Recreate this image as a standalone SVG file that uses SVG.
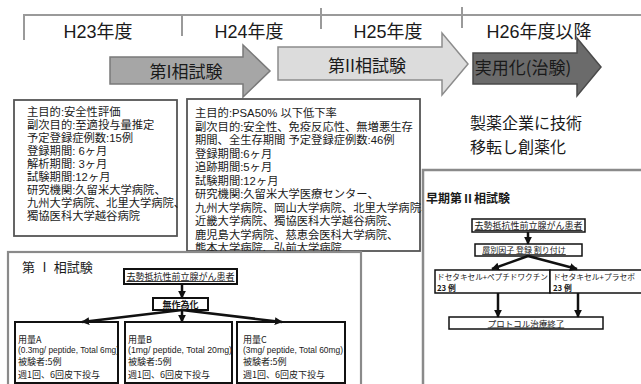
<svg xmlns="http://www.w3.org/2000/svg" width="641" height="384" viewBox="0 0 641 384">
<defs>
<marker id="ah" viewBox="0 0 10 10" refX="9" refY="5" markerWidth="8" markerHeight="8" markerUnits="userSpaceOnUse" orient="auto">
<path d="M0,0 L10,5 L0,10 z" fill="#111"/>
</marker>
<style>
.t{font-family:"Liberation Sans","Noto Sans CJK JP",sans-serif;fill:#1a1a1a}
.j{font-family:"Noto Sans CJK JP","Liberation Sans",sans-serif;fill:#1a1a1a}
.yr{font-size:18px;text-anchor:middle}
.ph{font-size:17px;text-anchor:middle}
.info{font-size:11.3px}
.fb{fill:#fff;stroke:#111;stroke-width:2}
.fbr{fill:#fff;stroke:#111;stroke-width:1.5}
.sm{font-size:9px}
.xs{font-size:8.5px}
.xx{font-size:7.8px}
.u{text-decoration:underline}
.c{text-anchor:middle}
.con{stroke:#111;stroke-width:2.5;fill:none;marker-end:url(#ah)}
.tl{stroke:#9a9a9a;stroke-width:2;fill:none}
</style>
</defs>
<rect width="641" height="384" fill="#fff"/>

<g id="timeline">
<path class="tl" d="M23,15 H641 M24,15 V40 M182,15 V36 M321,8 V29 M462,7 V28"/>
<text class="t yr" x="98" y="38">H23年度</text>
<text class="t yr" x="249" y="38">H24年度</text>
<text class="t yr" x="388" y="38">H25年度</text>
<text class="t yr" x="539" y="38">H26年度以降</text>
</g>

<g id="phase1-arrow">
<polygon points="110,57 243,57 243,45 270,71 243,97 243,84 110,84" fill="#a6a6a6" stroke="#7a7a7a" stroke-width="1.5"/>
<text class="j ph" x="186" y="78">第I相試験</text>
</g>
<g id="phase2-arrow">
<polygon points="278,47 442,47 442,33 468,64 442,95 442,80 278,80" fill="#dcdcdc" stroke="#8c8c8c" stroke-width="1.5"/>
<text class="j ph" x="367" y="72">第II相試験</text>
</g>
<g id="practical-arrow">
<polygon points="473,53 577,53 577,38 601,67 577,96 577,84 473,84" fill="#6b6b6b" stroke="#4a4a4a" stroke-width="1.5"/>
<text class="j ph" x="523" y="74">実用化(治験)</text>
</g>

<g id="box-phase1-info">
<rect x="14" y="100" width="163" height="136" fill="#fff" stroke="#555" stroke-width="1.8"/>
<text class="t info">
<tspan x="27" y="116">主目的:安全性評価</tspan>
<tspan x="27" y="129">副次目的:至適投与量推定</tspan>
<tspan x="27" y="142">予定登録症例数:15例</tspan>
<tspan x="27" y="155">登録期間: 6ヶ月</tspan>
<tspan x="27" y="168">解析期間: 3ヶ月</tspan>
<tspan x="27" y="181">試験期間:12ヶ月</tspan>
<tspan x="27" y="194">研究機関:久留米大学病院、</tspan>
<tspan x="27" y="207">九州大学病院、北里大学病院、</tspan>
<tspan x="27" y="220">獨協医科大学越谷病院</tspan>
</text>
</g>

<g id="box-phase2-info">
<rect x="187" y="99" width="233" height="152" fill="#fff" stroke="#555" stroke-width="1.8"/>
<text class="t info">
<tspan x="195" y="117">主目的:PSA50% 以下低下率</tspan>
<tspan x="195" y="130.5">副次目的:安全性、免疫反応性、無増悪生存</tspan>
<tspan x="195" y="144">期間、全生存期間  予定登録症例数:46例</tspan>
<tspan x="195" y="157.5">登録期間:6ヶ月</tspan>
<tspan x="195" y="171">追跡期間:5ヶ月</tspan>
<tspan x="195" y="184.5">試験期間:12ヶ月</tspan>
<tspan x="195" y="198">研究機関:久留米大学医療センター、</tspan>
<tspan x="195" y="211.5">九州大学病院、岡山大学病院、北里大学病院、</tspan>
<tspan x="195" y="225">近畿大学病院、獨協医科大学越谷病院、</tspan>
<tspan x="195" y="238.5">鹿児島大学病院、慈恵会医科大学病院、</tspan>
<tspan x="195" y="252">熊本大学病院、弘前大学病院</tspan>
</text>
</g>

<g id="commercial-text">
<text class="j" font-size="16" x="470" y="129">製薬企業に技術</text>
<text class="j" font-size="16" x="470" y="152.5">移転し創薬化</text>
</g>

<g id="panel-phase1">
<rect x="8" y="252" width="353" height="140" fill="#fff" stroke="#8a8a8a" stroke-width="2.2"/>
<text class="j" font-size="13" x="22" y="272">第 Ⅰ 相試験</text>
</g>
<g id="p1-patients">
<rect class="fb" x="124" y="269" width="113" height="15"/>
<text class="j sm c u" x="180.5" y="280">去勢抵抗性前立腺がん患者</text>
</g>
<g id="p1-random">
<rect class="fb" x="153" y="298" width="55" height="12"/>
<text class="j sm c" font-weight="bold" x="180.5" y="307.5">無作為化</text>
</g>
<g id="p1-doseA">
<rect class="fb" x="15" y="322" width="103" height="61"/>
<text class="j sm" x="18" y="343">用量A</text>
<text class="t" font-size="8.6" x="18" y="353" textLength="101" lengthAdjust="spacingAndGlyphs">(0.3mg/ peptide, Total 6mg)</text>
<text class="j sm" x="18" y="365">被験者:5例</text>
<text class="j sm" x="18" y="378">週1回、6回皮下投与</text>
</g>
<g id="p1-doseB">
<rect class="fb" x="125" y="322" width="107" height="61"/>
<text class="j sm" x="128" y="343">用量B</text>
<text class="t" font-size="8.6" x="128" y="353" textLength="104" lengthAdjust="spacingAndGlyphs">(1mg/ peptide, Total 20mg)</text>
<text class="j sm" x="128" y="365">被験者:5例</text>
<text class="j sm" x="128" y="378">週1回、6回皮下投与</text>
</g>
<g id="p1-doseC">
<rect class="fb" x="237" y="322" width="108" height="61"/>
<text class="j sm" x="243" y="343">用量C</text>
<text class="t" font-size="8.6" x="243" y="353" textLength="100" lengthAdjust="spacingAndGlyphs">(3mg/ peptide, Total 60mg)</text>
<text class="j sm" x="243" y="365">被験者:5例</text>
<text class="j sm" x="243" y="378">週1回、6回皮下投与</text>
</g>

<g id="panel-phase2">
<rect x="423" y="170" width="230" height="230" fill="#fff" stroke="#8a8a8a" stroke-width="2.5"/>
<text class="j" font-size="12" font-weight="bold" x="426" y="203">早期第Ⅱ相試験</text>
</g>
<g id="p2-patients">
<rect class="fbr" x="472" y="219" width="113" height="13"/>
<text class="j sm c u" x="528.5" y="229">去勢抵抗性前立腺がん患者</text>
</g>
<g id="p2-alloc">
<rect class="fbr" x="475" y="244" width="107" height="12"/>
<text class="j c u" font-size="8" x="524" y="253">層別因子 登録 割り付け</text>
</g>
<g id="p2-armA">
<rect class="fbr" x="435" y="270" width="115" height="23"/>
<text class="j xx" x="437" y="279.5" textLength="111" lengthAdjust="spacingAndGlyphs">ドセタキセル+ペプチドワクチン</text>
<text class="j xx" font-weight="bold" x="437" y="291">23 例</text>
</g>
<g id="p2-armB">
<rect class="fbr" x="550" y="270" width="100" height="23"/>
<text class="j xx" x="553" y="279.5" textLength="82" lengthAdjust="spacingAndGlyphs">ドセタキセル+プラセボ</text>
<text class="j xx" font-weight="bold" x="553" y="291">23 例</text>
</g>
<g id="p2-end">
<rect class="fbr" x="449" y="317" width="154" height="12"/>
<text class="j xs c u" x="526" y="326.5">プロトコル治療終了</text>
</g>

<g id="connectors">
<path class="con" d="M182,284 V298"/>
<path class="con" d="M182,310 L82,322"/>
<path class="con" d="M182,310 V322"/>
<path class="con" d="M182,310 L282,322"/>
<path class="con" d="M528,232 V244"/>
<path class="con" d="M528,256 L492,269"/>
<path class="con" d="M528,256 L577,269"/>
<path class="con" d="M498,293 V317"/>
<path class="con" d="M578,293 V317"/>
</g>
</svg>
